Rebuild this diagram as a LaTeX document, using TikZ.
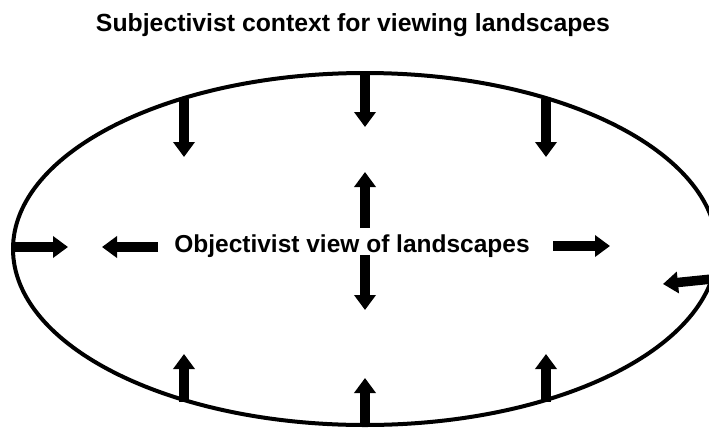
\documentclass[tikz,border=0pt]{standalone}
\usepackage{fontspec}
\setmainfont{Liberation Sans}
\usetikzlibrary{arrows.meta}
\tikzset{
  blockarrow/.style={line width=9.5pt, -{Triangle[length=15pt,width=21pt]}},
  label/.style={inner sep=0pt, anchor=base, font=\fontsize{24.5}{29}\selectfont\bfseries}
}
\begin{document}
\begin{tikzpicture}[x=1pt,y=-1pt]
\useasboundingbox (0,0) rectangle (709,432);
\node[label] (title) at (353,31) {\fontsize{24.8}{29}\selectfont Subjectivist context for viewing landscapes};
\node[label] (obj) at (352,252) {Objectivist view of landscapes};
\draw[line width=4pt] (365,249) ellipse [x radius=352pt, y radius=176pt];
% arrow end points
\coordinate (a1s) at (184,99);  \coordinate (a1e) at (184,157);
\coordinate (a2s) at (365,73);  \coordinate (a2e) at (365,127);
\coordinate (a3s) at (546,99);  \coordinate (a3e) at (546,157);
\coordinate (a4s) at (13,247);  \coordinate (a4e) at (68,247);
\coordinate (a5s) at (158,247); \coordinate (a5e) at (102,247);
\coordinate (a6s) at (365,228); \coordinate (a6e) at (365,172);
\coordinate (a7s) at (365,255); \coordinate (a7e) at (365,310);
\coordinate (a8s) at (553,246); \coordinate (a8e) at (610,246);
\coordinate (a9s) at (712,279); \coordinate (a9e) at (663,284);
\coordinate (b1s) at (184,402); \coordinate (b1e) at (184,354);
\coordinate (b2s) at (365,425); \coordinate (b2e) at (365,378);
\coordinate (b3s) at (546,402); \coordinate (b3e) at (546,354);
\foreach \n in {a1,a2,a3,a4,a5,a6,a7,a8,a9,b1,b2,b3}
  \draw[blockarrow] (\n s) -- (\n e);
\end{tikzpicture}
\end{document}
